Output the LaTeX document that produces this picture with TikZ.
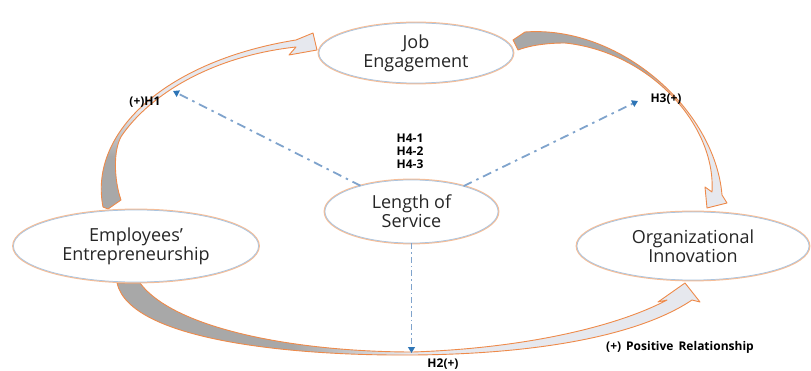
\documentclass[tikz,border=0pt]{standalone}
\usepackage{fontspec}
\setmainfont{Open Sans}
\usetikzlibrary{arrows.meta,shapes.geometric}

\definecolor{arrgray}{HTML}{A8A8A8}
\definecolor{arrlight}{HTML}{E6E8EE}
\definecolor{arredge}{HTML}{EE8A4A}
\definecolor{ringorange}{HTML}{F6BE98}
\definecolor{ringblue}{HTML}{A9C4E0}
\definecolor{dashblue}{HTML}{7FA3CC}
\definecolor{tipblue}{HTML}{2E75B6}
\definecolor{inktext}{HTML}{262626}

% gray tail fading into a light head
\pgfdeclareverticalshading{fadeup}{100bp}{color(0bp)=(arrgray); color(40bp)=(arrgray); color(53bp)=(arrlight); color(100bp)=(arrlight)}
\pgfdeclarehorizontalshading{fadeturn}{100bp}{color(0bp)=(arrgray); color(56bp)=(arrgray); color(66bp)=(arrlight); color(100bp)=(arrlight)}
\pgfdeclarehorizontalshading{fadelong}{100bp}{color(0bp)=(arrgray); color(40bp)=(arrgray); color(50bp)=(arrlight); color(100bp)=(arrlight)}

\tikzset{
  concept/.style={ellipse, fill=white, draw=ringblue, line width=0.7pt,
    preaction={draw=ringorange, line width=2.8pt},
    inner sep=0pt, align=center, text=inktext,
    font=\fontsize{18}{19}\selectfont},
  hlabel/.style={inner sep=0pt, text=black, font=\bfseries\fontsize{12}{13}\selectfont},
  blockarrow/.style={draw=arredge, line width=0.9pt, line join=round},
  dashconn/.style={draw=dashblue, line width=1.8pt,
    dash pattern=on 9pt off 5pt on 2.5pt off 5pt,
    -{Triangle[length=6pt,width=7pt,color=tipblue]}},
}

\begin{document}
\begin{tikzpicture}[x=1pt, y=-1pt]
\useasboundingbox (0,0) rectangle (811,371);

% curved block arrows
% Employees' Entrepreneurship -> Job Engagement
\path[blockarrow, shade, shading=fadeup]
  (103,207) .. controls (88,130) and (170,60) .. (296,40)
  -- (313,33) -- (317,50) -- (289,55) -- (296,47)
  .. controls (213,56) and (150,94) .. (121.5,136)
  .. controls (113,150) and (114,180) .. (121,200)
  -- (108,209) -- cycle;

% Job Engagement -> Organizational Innovation
\path[blockarrow, shade, shading=fadeturn]
  (513,40) -- (525,32) .. controls (620,25) and (715,110) .. (722,195)
  -- (727,203) -- (707,208) -- (705,187) -- (712,192)
  .. controls (716,125) and (650,52) .. (565,43)
  .. controls (545,43) and (528,46) .. (518,50) -- cycle;

% Employees' Entrepreneurship -> Organizational Innovation
\path[blockarrow, shade, shading=fadelong]
  (117,283) .. controls (130,340) and (290,356) .. (413,355)
  .. controls (540,354) and (640,335) .. (692,300)
  -- (700,302) -- (685,283) -- (658,302) -- (667,300)
  .. controls (620,325) and (530,348) .. (413,352)
  .. controls (300,352) and (175,330) .. (140,283) -- cycle;

% concepts
\node[concept, minimum width=194, minimum height=60] (je)  at (416,53)  {Job\\Engagement};
\node[concept, minimum width=245, minimum height=72] (ee)  at (136,246) {Employees’\\Entrepreneurship};
\node[concept, minimum width=173, minimum height=63] (los) at (411.5,211.5) {Length of\\Service};
\node[concept, minimum width=232, minimum height=68] (oi)  at (693,246) {Organizational\\Innovation};

% moderating paths
\coordinate (h1tip) at (173,91);
\coordinate (h3tip) at (638,101);
\coordinate (h2tip) at (411.5,353);
\draw[dashconn] (los) -- (h1tip);
\draw[dashconn] (los) -- (h3tip);
\draw[dashconn, line width=1.2pt, dash pattern=on 6pt off 3pt on 1.5pt off 3pt] (los.south) -- (h2tip);

% hypothesis labels
\node[hlabel] (h1) at (145,102) {(+)H1};
\node[hlabel, align=center] (h4) at (410,151) {H4-1\\H4-2\\H4-3};
\node[hlabel] (h3) at (666,99) {H3(+)};
\node[hlabel] (h2) at (443,364) {H2(+)};
\node[hlabel] (pos) at (680,347) {(+)\hspace{5pt}Positive\hspace{5pt}Relationship};
\end{tikzpicture}
\end{document}
